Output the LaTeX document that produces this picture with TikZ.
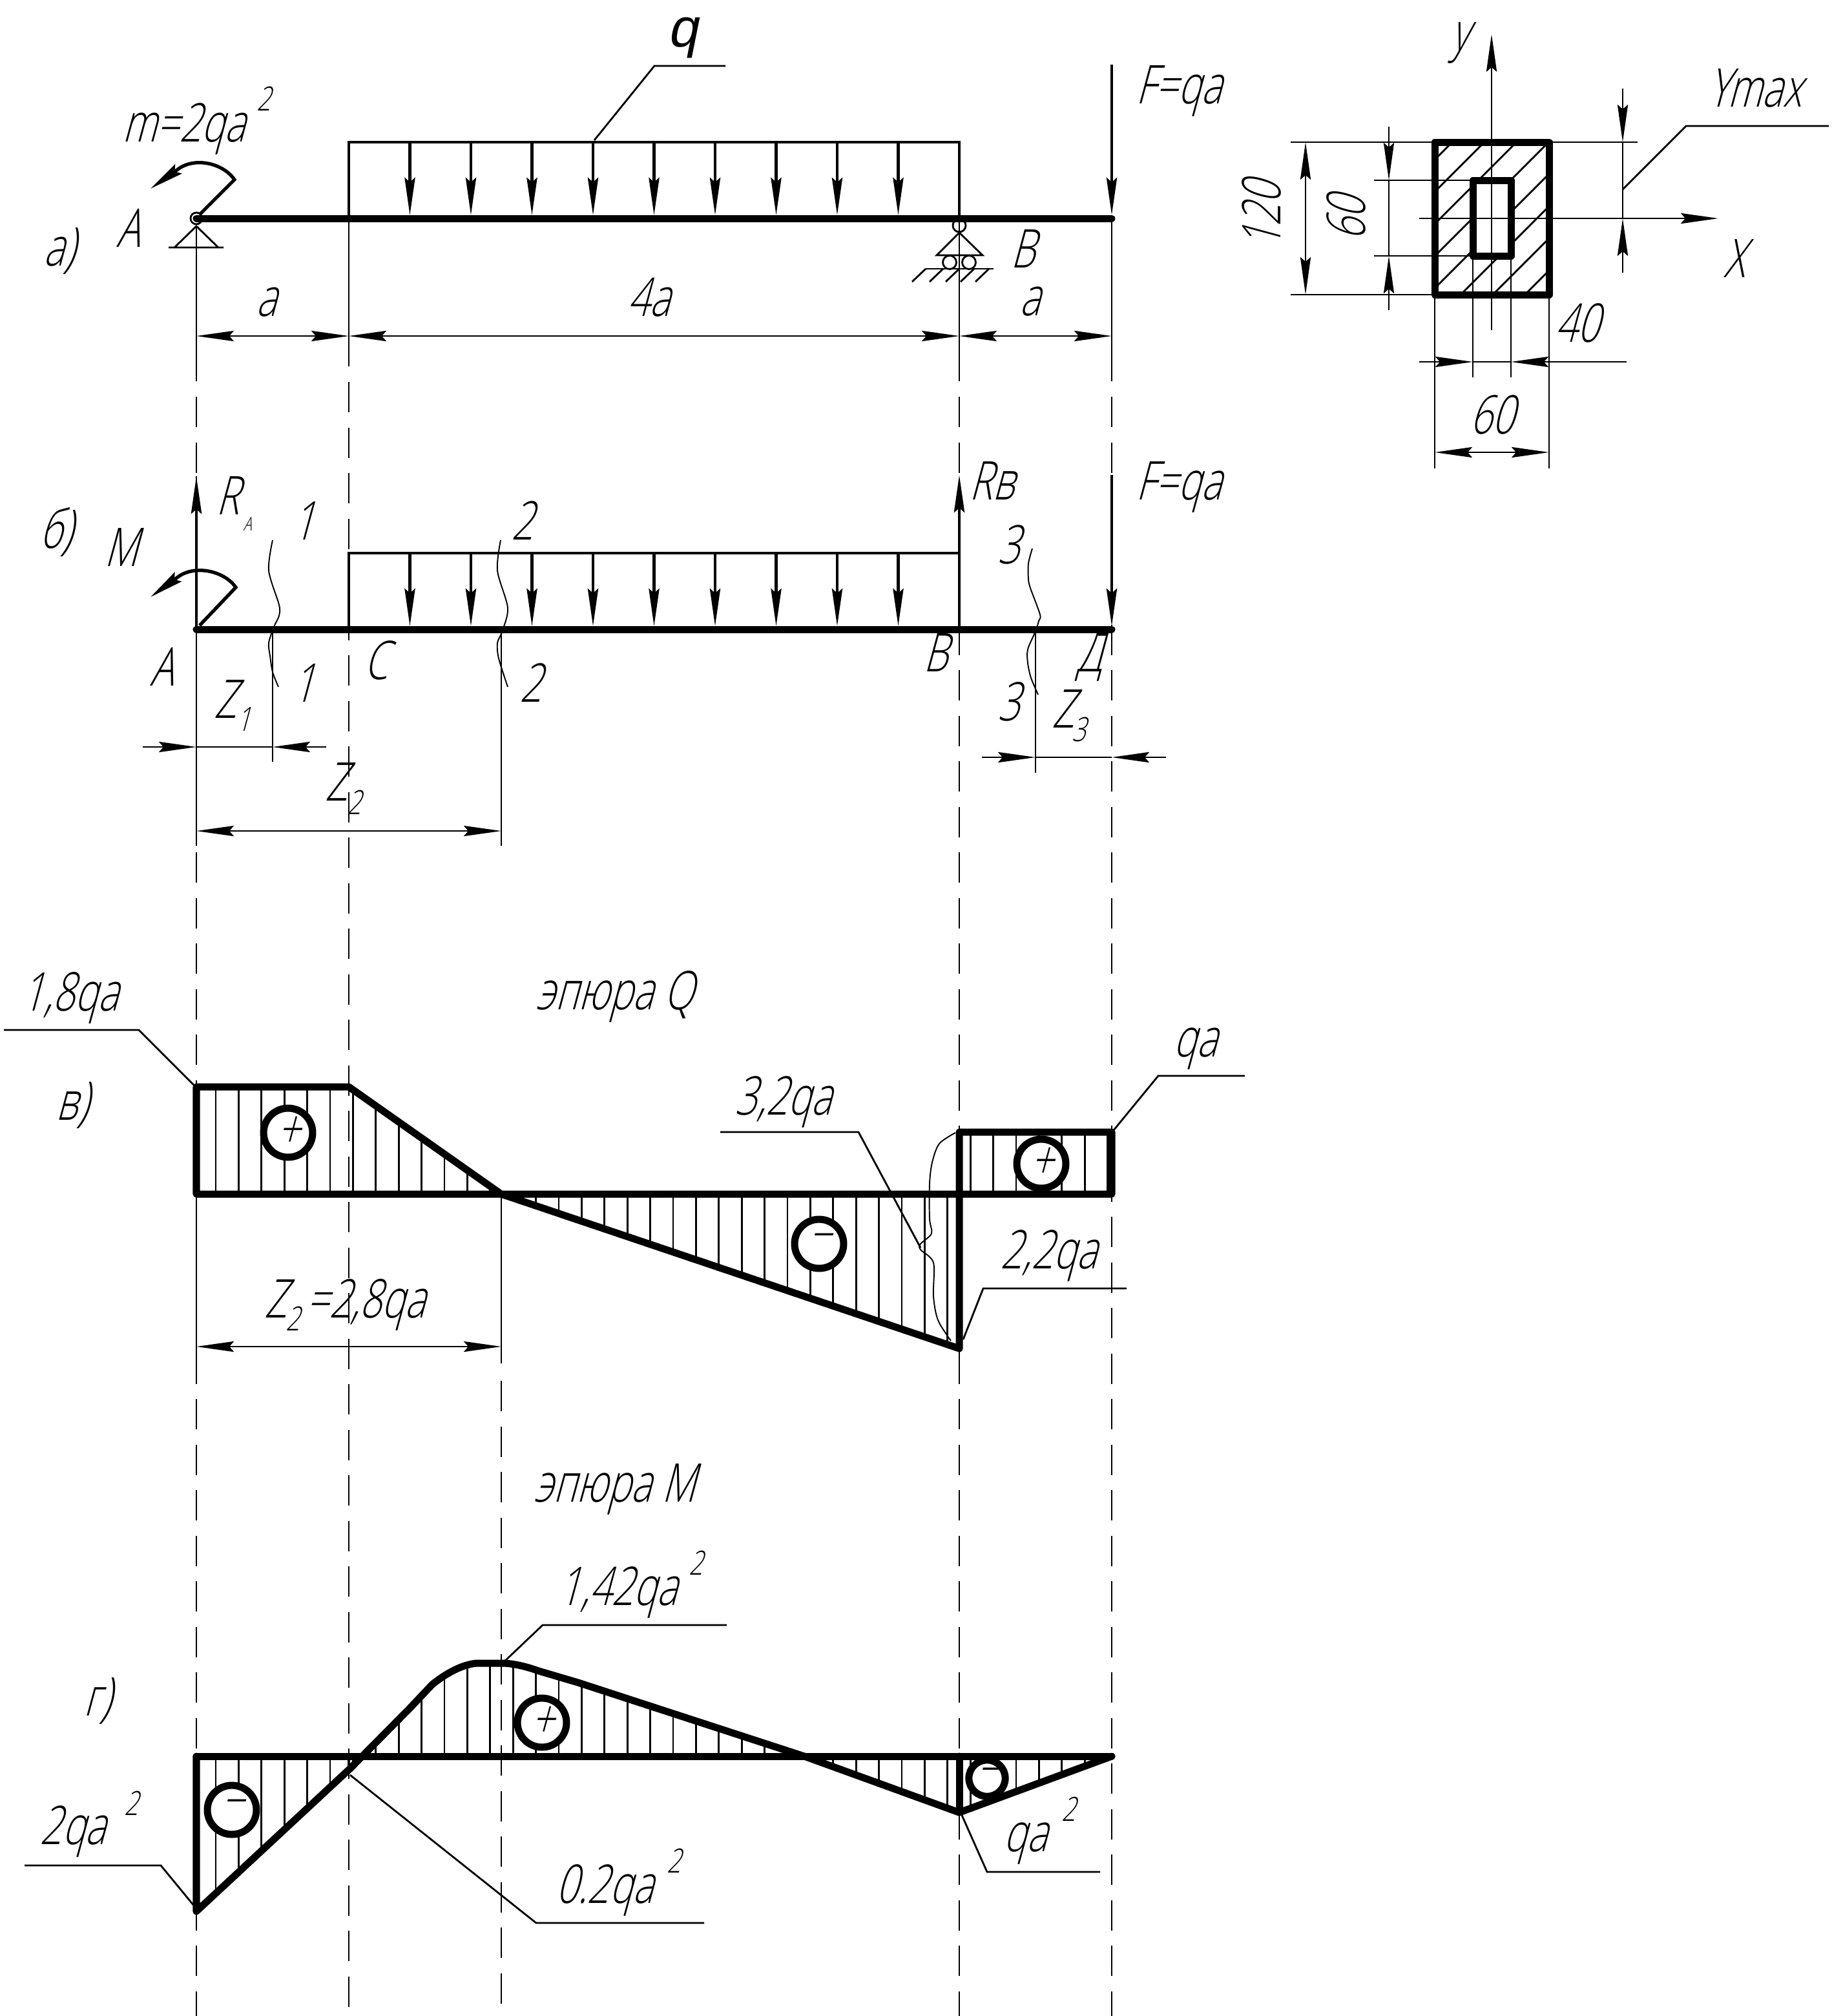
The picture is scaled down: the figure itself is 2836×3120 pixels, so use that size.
\documentclass[tikz,border=0pt]{standalone}
\usepackage{fontspec}
\usepackage{xcolor}
\usetikzlibrary{arrows.meta,positioning}
\newfontfamily\gost[FakeSlant=0.27,FakeStretch=0.73]{Open Sans Light}
\newfontfamily\loadfont[FakeSlant=0.2]{Liberation Sans}
\tikzset{
  beamline/.style={line width=3.13pt,line cap=round,line join=round},
  loadline/.style={line width=1.3pt},
  thinline/.style={line width=0.8pt},
  waveline/.style={line width=0.55pt},
  extline/.style={line width=0.8pt,dash pattern=on 13.4pt off 6.65pt},
  lbl/.style={font=\gost\fontsize{23.5}{24}\selectfont,anchor=base,inner sep=0pt,xshift=-1.5pt},
  suplbl/.style={font=\gost\fontsize{14.7}{15}\selectfont,anchor=base,inner sep=0pt},
  tinylbl/.style={font=\gost\fontsize{8.4}{9}\selectfont,anchor=base,inner sep=0pt},
  signbig/.style={circle,draw,fill=white,line width=3.13pt,minimum size=21.6pt,inner sep=0pt,font=\gost\fontsize{24}{24}\selectfont},
  signsmall/.style={circle,draw,fill=white,line width=3.13pt,minimum size=16pt,inner sep=0pt,font=\gost\fontsize{24}{24}\selectfont},
  momenttip/.style={line width=1.5pt,-{Stealth[length=15pt,width=5pt,inset=2pt]}},
}
\begin{document}
\begin{tikzpicture}[x=0.01cm,y=-0.01cm,>={Stealth[length=16.5pt,width=4.6pt,inset=2pt]}]
\useasboundingbox (0,0) rectangle (2836,3120);

% vertical extension lines
\draw[thinline] (304,350) -- (304,590);
\draw[thinline] (540,338) -- (540,567);
\draw[thinline] (1485,338) -- (1485,590);
\draw[thinline] (1721,338) -- (1721,590);
\draw[extline] (304,614) -- (304,3120);
\draw[extline] (540,591) -- (540,3120);
\draw[extline] (1485,614) -- (1485,3120);
\draw[extline] (1721,614) -- (1721,3120);
\draw[extline] (776,2137) -- (776,3120);
\draw[thinline] (304,737) -- (304,1309);
\draw[thinline] (776,980) -- (776,1309);
\draw[thinline] (304,1848) -- (304,2132);
\draw[thinline] (776,1848) -- (776,2110);
\draw[thinline] (1485,2087) -- (1485,2133);

% beam a
\draw[thinline,fill=white] (304,338) circle (9);
\draw[thinline] (261,383) -- (346,383) (270,383) -- (304,350) -- (338,383);
\draw[thinline] (1485,349) circle (10);
\draw[thinline] (1450,395) -- (1485,360) -- (1521,395) -- cycle;
\draw[thinline] (1470,406) circle (10.5) (1500,406) circle (10.5);
\draw[thinline] (1433,416) -- (1538,416);
\foreach \x in {1433,1460,1485,1508,1531}
  \draw[thinline] (\x,416) -- ({\x-21},436);
\draw[loadline] (540,338) -- (540,220) -- (1485,220) -- (1485,338);
\foreach \i in {0,...,8}
  \draw[loadline,->] ({634.5+94.5*\i},220) -- ({634.5+94.5*\i},333);
\draw[beamline] (304,338) -- (1721,338);
\draw[loadline,->] (1721,100) -- (1721,333);
\draw[momenttip] (309,332) -- (363,278) .. controls (345,252) and (300,242) .. (274,263) -- (233,292);
\draw[thinline,<->] (304,520) -- (540,520);
\draw[thinline,<->] (540,520) -- (1485,520);
\draw[thinline,<->] (1485,520) -- (1721,520);
\draw[thinline] (920,217) -- (1013,102) -- (1123,102);
\node[anchor=base,inner sep=0pt,font=\loadfont\fontsize{24}{24}\selectfont] (lblq) at (1057,72) {q};
\node[lbl] (lblm) at (290,219) {m=2qa};
\node[suplbl] (lblmsup) at (408,171) {2};
\node[lbl] (lblAa) at (204,382) {A};
\node[lbl] (lblpa) at (97,411) {а)};
\node[lbl] (lblBa) at (1589,414) {B};
\node[lbl] (lblFa) at (1830,160) {F=qa};
\node[lbl] (lbla1) at (418,489) {a};
\node[lbl] (lbl4a) at (1010,489) {4a};
\node[lbl] (lbla2) at (1600,488) {a};

% beam b
\draw[loadline] (540,974) -- (540,856) -- (1485,856);
\foreach \i in {0,...,8}
  \draw[loadline,->] ({634.5+94.5*\i},856) -- ({634.5+94.5*\i},969);
\draw[beamline] (304,974) -- (1721,974);
\draw[loadline,->] (304,974) -- (304,737);
\draw[loadline,->] (1485,974) -- (1485,735);
\draw[loadline,->] (1721,735) -- (1721,969);
\draw[momenttip] (309,968) -- (365,909) .. controls (347,883) and (300,873) .. (274,894) -- (233,924);
\draw[waveline] plot[smooth] coordinates {(422,836) (416,883) (432,936) (432,953) (424,970) (416,995) (418,1015) (422,1040) (431,1063)};
\draw[waveline] plot[smooth] coordinates {(775,836) (770,883) (786,941) (777,978) (770,995) (772,1019) (786,1063)};
\draw[waveline] plot[smooth] coordinates {(1598,849) (1592,872) (1592,896) (1595,910) (1610,951) (1608,961) (1603,977) (1591,1005) (1591,1026) (1596,1049) (1607,1075)};
\draw[thinline] (422,980) -- (422,1179);
\draw[thinline] (1603,977) -- (1603,1196);
\draw[thinline,->] (221,1156) -- (304,1156);
\draw[thinline,->] (505,1156) -- (422,1156);
\draw[thinline] (304,1156) -- (422,1156);
\draw[thinline,<->] (304,1286) -- (776,1286);
\draw[thinline,->] (1520,1172) -- (1603,1172);
\draw[thinline,->] (1805,1172) -- (1721,1172);
\draw[thinline] (1603,1172) -- (1721,1172);
\node[lbl] (lblpb) at (92,848) {б)};
\node[lbl] (lblR) at (358,796) {R};
\node[tinylbl] (lblRsub) at (383,821) {A};
\node[lbl] (lblM) at (193,876) {M};
\node[lbl] (lblup1) at (475,835) {1};
\node[lbl] (lblup2) at (814,835) {2};
\node[lbl] (lblup3) at (1567,872) {3};
\node[lbl] (lblRb) at (1541,773) {Rв};
\node[lbl] (lblFb) at (1830,773) {F=qa};
\node[lbl] (lblAb) at (256,1061) {A};
\node[lbl] (lblC) at (588,1051) {C};
\node[lbl] (lblBb) at (1454,1039) {B};
\node[lbl] (lblD) at (1692,1039) {Д};
\node[lbl] (lbllo1) at (475,1086) {1};
\node[lbl] (lbllo2) at (827,1086) {2};
\node[lbl] (lbllo3) at (1567,1115) {3};
\node[lbl] (lblZa) at (354,1111) {Z};
\node[suplbl] (lblZasub) at (377,1131) {1};
\node[lbl] (lblZb) at (526,1239) {Z};
\node[suplbl] (lblZbsub) at (548,1260) {2};
\node[lbl] (lblZc) at (1651,1126) {Z};
\node[suplbl] (lblZcsub) at (1670,1147) {3};

% diagram Q
\begin{scope}
\clip (304,1848) -- (304,1682) -- (540,1682) -- (776,1848) -- (1485,2087) -- (1485,1848) -- cycle
      (1485,1752) rectangle (1721,1848);
\foreach \i in {0,...,40}
  \draw[thinline] ({298.6+35.4*\i},1600) -- ({298.6+35.4*\i},2100);
\end{scope}
\draw[beamline] (304,1848) -- (304,1682) -- (540,1682) -- (776,1848) -- (1485,2087) -- (1485,1752) -- (1721,1752) -- (1721,1848) -- cycle;
\node[signbig] (qplusa) at (446,1753) {+};
\node[signbig] (qminus) at (1268,1925) {−};
\node[signbig] (qplusb) at (1612,1801) {+};
\draw[thinline] (6,1594) -- (215,1594) -- (301,1680);
\draw[thinline] (1115,1752) -- (1329,1752) -- (1425,1931);
\draw[thinline] (1724,1749) -- (1793,1665) -- (1927,1665);
\draw[thinline] (1491,2073) -- (1522,1994) -- (1744,1994);
\draw[waveline] plot[smooth] coordinates {(1479,1753) (1454,1770) (1443,1799) (1439,1832) (1439,1886) (1442,1909) (1425,1925) (1425,1934) (1445,1954) (1445,2006) (1452,2043) (1472,2075)};
\draw[thinline,<->] (304,2084) -- (776,2084);
\node[lbl] (lblQ) at (957,1562) {эпюра Q};
\node[lbl] (lblpc) at (117,1733) {в)};
\node[lbl] (lbl18) at (114,1564) {1,8qa};
\node[lbl] (lbl32) at (1218,1725) {3,2qa};
\node[lbl] (lblqa) at (1856,1635) {qa};
\node[lbl] (lbl22) at (1629,1963) {2,2qa};
\node[lbl] (lblZq) at (432,2039) {Z};
\node[suplbl] (lblZqsub) at (453,2059) {2};
\node[lbl] (lbl28) at (572,2039) {=2,8qa};

% diagram M
\begin{scope}
\clip (304,2718) -- (304,2958) -- (542,2737) -- (635,2643) -- (669,2607) .. controls (690,2590) and (715,2576) .. (738,2574) -- (780,2574) .. controls (800,2575) and (820,2581) .. (834,2586) -- (895,2604) -- (1245,2718) -- (1485,2805) -- (1721,2718) -- cycle;
\foreach \i in {0,...,40}
  \draw[thinline] ({298.6+35.4*\i},2500) -- ({298.6+35.4*\i},3000);
\end{scope}
\draw[beamline] (304,2718) -- (1721,2718);
\draw[beamline] (304,2718) -- (304,2958) -- (542,2737) -- (635,2643) -- (669,2607) .. controls (690,2590) and (715,2576) .. (738,2574) -- (780,2574) .. controls (800,2575) and (820,2581) .. (834,2586) -- (895,2604) -- (1245,2718) -- (1485,2805) -- (1721,2718);
\draw[beamline] (1485,2718) -- (1485,2805);
\draw[loadline] (540,2718) -- (540,2737);
\node[signbig] (mminusa) at (359,2801) {−};
\node[signbig] (mplus) at (839,2666) {+};
\node[signsmall] (mminusb) at (1528,2752) {−};
\draw[thinline] (38,2887) -- (249,2887) -- (300,2949);
\draw[thinline] (780,2572) -- (840,2515) -- (1125,2515);
\draw[thinline] (542,2747) -- (830,2976) -- (1090,2976);
\draw[thinline] (1488,2807) -- (1528,2897) -- (1703,2897);
\node[lbl] (lblMd) at (957,2324) {эпюра M};
\node[lbl] (lblpd) at (156,2655) {г)};
\node[lbl] (lbl2q) at (118,2854) {2qa};
\node[suplbl] (lbl2qsup) at (203,2809) {2};
\node[lbl] (lbl142) at (962,2484) {1,42qa};
\node[suplbl] (lbl142sup) at (1077,2437) {2};
\node[lbl] (lbl02) at (941,2945) {0.2qa};
\node[suplbl] (lbl02sup) at (1043,2898) {2};
\node[lbl] (lblqb) at (1593,2865) {qa};
\node[suplbl] (lblqbsup) at (1654,2818) {2};

% cross section
\begin{scope}
\clip (2221,220) rectangle (2398,456);
\foreach \i in {0,...,7}
  \draw[thinline] ({2468+49.8*\i-456},456) -- ({2468+49.8*\i-220},220);
\end{scope}
\draw[thinline,fill=white] (2280,279) rectangle (2339,396);
\draw[thinline,->] (2309,511) -- (2309,53);
\draw[thinline,->] (2197,338) -- (2660,338);
\draw[beamline] (2221,220) rectangle (2398,456);
\draw[beamline] (2280,279) rectangle (2339,396);
% dimensions of the section
\draw[thinline] (1998,220) -- (2221,220) (2398,220) -- (2535,220);
\draw[thinline] (1998,456) -- (2221,456);
\draw[thinline] (2127,279) -- (2280,279) (2127,396) -- (2280,396);
\draw[thinline] (2221,456) -- (2221,725) (2398,456) -- (2398,725);
\draw[thinline] (2280,396) -- (2280,584) (2339,396) -- (2339,584);
\draw[thinline,<->] (2021,220) -- (2021,456);
\draw[thinline,->] (2150,196) -- (2150,279);
\draw[thinline,->] (2150,480) -- (2150,396);
\draw[thinline] (2150,279) -- (2150,396);
\draw[thinline,->] (2197,560) -- (2280,560);
\draw[thinline,->] (2518,560) -- (2339,560);
\draw[thinline] (2280,560) -- (2339,560);
\draw[thinline,<->] (2221,700) -- (2398,700);
\draw[thinline,->] (2512,137) -- (2512,220);
\draw[thinline,->] (2512,422) -- (2512,338);
\draw[thinline] (2512,220) -- (2512,338);
\draw[thinline] (2512,293) -- (2610,195) -- (2831,195);
\node[lbl] (lbly) at (2266,78) {y};
\node[lbl] (lblX) at (2690,429) {X};
\node[lbl] (lblYmax) at (2722,165) {Ymax};
\node[lbl,rotate=90] (lbl120) at (1988,333) {120};
\node[lbl,rotate=90] (lbl60a) at (2119,338) {60};
\node[lbl] (lbl40) at (2447,529) {40};
\node[lbl] (lbl60b) at (2315,671) {60};
\end{tikzpicture}
\end{document}
